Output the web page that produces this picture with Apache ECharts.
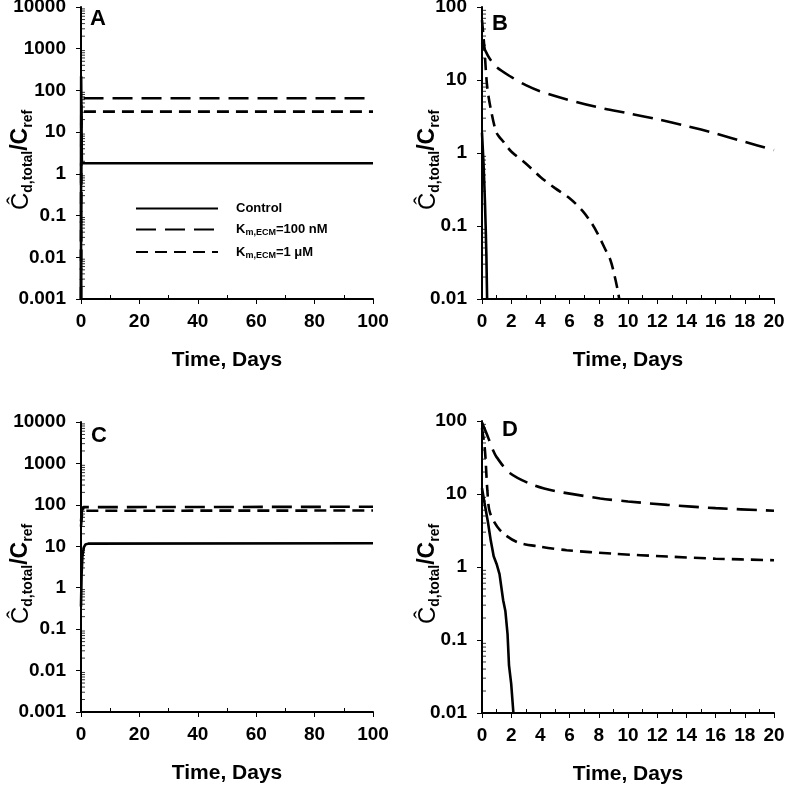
<!DOCTYPE html>
<html><head><meta charset="utf-8">
<script src="https://cdn.jsdelivr.net/npm/echarts@6/dist/echarts.min.js"></script>
<style>html,body{margin:0;padding:0;background:#fff}#c{width:785px;height:787px}</style>
</head><body><div id="c"></div>
<script>
// ---------- data ----------
const legendNames = ['Control', 'Km100', 'Km1'];
const legendLabels = ['Control', 'K{s|m,ECM}=100 nM', 'K{s|m,ECM}=1 μM'];
const panelLetters = ['A', 'B', 'C', 'D'];

// Panel A (0-100 days)
const aControl = [[0, 0.001], [0.05, 220], [0.3, 1.8], [100, 1.8]];
const aKm100  = [[0, 0.001], [0.1, 65], [100, 65]];
const aKm1    = [[0, 0.001], [0.1, 31], [100, 31]];

// Panel B (0-20 days)
const bControl = [[0, 1.9], [0.05, 1.2], [0.1, 0.75], [0.15, 0.42], [0.2, 0.22], [0.25, 0.1], [0.3, 0.04], [0.35, 0.01]];
const bKm100 = [[0, 32], [0.2, 26], [0.5, 20], [1, 15], [2, 11], [3, 8.5], [4, 7], [6, 5.3], [8, 4.2], [10, 3.5], [12, 2.9], [14, 2.35], [16, 1.85], [18, 1.42], [20, 1.1]];
const bKm1 = [[0, 66], [0.15, 30], [0.35, 8.3], [0.6, 4], [1, 1.9], [1.5, 1.4], [2, 1.05], [3, 0.72], [4, 0.47], [5, 0.33], [6, 0.24], [6.9, 0.16], [7.5, 0.11], [7.9, 0.08], [8.4, 0.05], [8.8, 0.034], [9.1, 0.02], [9.3, 0.013], [9.4, 0.01]];

// Panel C (0-100 days)
const cControl = [[0, 0.35], [0.2, 2], [0.5, 6], [1, 9.5], [1.5, 11], [2.5, 11.6], [100, 11.8]];
const cKm100 = [[0, 40], [0.3, 70], [0.8, 88], [100, 90]];
const cKm1   = [[0, 30], [0.3, 55], [0.8, 72], [100, 73]];

// Panel D (0-20 days)
const dControl = [[0, 12], [0.2, 7], [0.4, 4.2], [0.6, 2.3], [0.8, 1.4], [1.0, 1.1], [1.2, 0.8], [1.45, 0.35], [1.6, 0.25], [1.75, 0.12], [1.85, 0.045], [2.0, 0.025], [2.15, 0.01]];
const dKm100 = [[0, 95], [0.4, 61], [0.75, 40], [1, 32], [1.9, 19.4], [3.5, 13.3], [5, 11], [8.1, 8.7], [10, 7.9], [12.7, 7.1], [16, 6.4], [20, 5.9]];
const dKm1   = [[0, 80], [0.2, 40], [0.37, 11], [0.55, 5.5], [1.23, 3.2], [2.4, 2.2], [4, 1.9], [5.8, 1.7], [9, 1.52], [12.7, 1.39], [16, 1.3], [20, 1.24]];

// axis settings
const xMaxLong = 100, xIntLong = 20;
const xMaxShort = 20, xIntShort = 2;
const yMinA = 0.001, yMaxA = 10000;
const yMinB = 0.01, yMaxB = 100;
const decadesLong = [0.001, 0.01, 0.1, 1, 10, 100, 1000];
const decadesShort = [0.01, 0.1, 1, 10];
const minorMultipliers = [2, 3, 4, 5, 6, 7, 8, 9];

// ---------- chart ----------
const FONT = 'Liberation Sans, Arial, Helvetica, sans-serif';
const grids = [
  {left: 81, top: 7, width: 292, height: 292},
  {left: 482, top: 7, width: 292, height: 292},
  {left: 81, top: 422, width: 292, height: 290},
  {left: 482, top: 421, width: 292, height: 292}
].map(g => Object.assign({outerBoundsMode: 'none', containLabel: false}, g));
const xCfg = [[xMaxLong, xIntLong], [xMaxShort, xIntShort], [xMaxLong, xIntLong], [xMaxShort, xIntShort]];
const yCfg = [[yMinA, yMaxA], [yMinB, yMaxB], [yMinA, yMaxA], [yMinB, yMaxB]];
const yDecades = [decadesLong, decadesShort, decadesLong, decadesShort];
const yNameGap = [46, 40, 46, 40];
const panelData = [[aControl, aKm100, aKm1], [bControl, bKm100, bKm1], [cControl, cKm100, cKm1], [dControl, dKm100, dKm1]];

const axisLine = {show: true, onZero: false, lineStyle: {color: '#000', width: 2}};
const labelStyle = {color: '#000', fontFamily: FONT, fontWeight: 'bold', fontSize: 19};

const xAxes = xCfg.map((c, i) => ({
  type: 'value', gridIndex: i, min: 0, max: c[0], interval: c[1],
  axisLine: axisLine,
  axisTick: {show: true, length: 5, lineStyle: {color: '#000', width: 1}},
  minorTick: {show: true, splitNumber: 2, length: -4, lineStyle: {color: '#000', width: 1}},
  splitLine: {show: false}, minorSplitLine: {show: false},
  axisLabel: Object.assign({margin: 13}, labelStyle),
  name: 'Time, Days', nameLocation: 'middle', nameGap: 51, nameMoveOverlap: false,
  nameTextStyle: {color: '#000', fontFamily: FONT, fontWeight: 'bold', fontSize: 21}
}));

const yAxes = yCfg.map((c, i) => ({
  type: 'log', logBase: 10, gridIndex: i, min: c[0], max: c[1], interval: 1,
  axisLine: axisLine,
  axisTick: {show: true, length: 5, lineStyle: {color: '#000', width: 1}},
  minorTick: {show: false},
  splitLine: {show: false}, minorSplitLine: {show: false},
  axisLabel: Object.assign({margin: 15, formatter: v => String(+Number(v).toPrecision(4))}, labelStyle),
  name: '{c|Ĉ}{s|d,total}{b|/C}{s|ref}', nameLocation: 'middle', nameGap: yNameGap[i], nameRotate: 90,
  nameMoveOverlap: false,
  nameTextStyle: {
    color: '#000', fontFamily: FONT, padding: [0, 14, 0, 0],
    rich: {
      c: {fontSize: 24, fontWeight: 'normal', fontFamily: FONT, color: '#000', lineHeight: 28},
      b: {fontSize: 23, fontWeight: 'bold', fontFamily: FONT, color: '#000', lineHeight: 28},
      s: {fontSize: 14, fontWeight: 'bold', fontFamily: FONT, color: '#000', lineHeight: 12, verticalAlign: 'bottom'}
    }
  }
}));

const dashes = [null, [20, 9], [12, 7]];
const series = [];
panelData.forEach((arr, p) => {
  arr.forEach((d, k) => {
    series.push({
      type: 'line', name: legendNames[k], xAxisIndex: p, yAxisIndex: p,
      data: d, symbol: 'none', showSymbol: false, clip: true,
      smooth: (k > 0 && (p === 1 || p === 3)) ? 0.3 : false,
      lineStyle: {color: '#000', width: 2.6, type: k === 0 ? 'solid' : dashes[k]},
      itemStyle: {color: '#000'},
      emphasis: {disabled: true}, animation: false
    });
  });
  // minor log ticks on the inside of the y axis
  const tickVals = [];
  yDecades[p].forEach(dec => minorMultipliers.forEach(m => tickVals.push([0, +(dec * m).toPrecision(3)])));
  series.push({
    type: 'custom', name: 'minorTicks' + p, xAxisIndex: p, yAxisIndex: p, silent: true,
    data: tickVals, clip: false, z: 5,
    renderItem: (params, api) => {
      const pt = api.coord([api.value(0), api.value(1)]);
      return {type: 'line', shape: {x1: pt[0] + 1, y1: pt[1], x2: pt[0] + 4, y2: pt[1]},
              style: {stroke: '#000', lineWidth: 0.8}};
    }
  });
});

const letterPos = [[90, 8], [492, 13], [91, 425], [502, 419]];
const titles = panelLetters.map((t, i) => ({
  text: t, left: letterPos[i][0], top: letterPos[i][1], padding: 0,
  textStyle: {color: '#000', fontFamily: FONT, fontWeight: 'bold', fontSize: 22}
}));

const chart = echarts.init(document.getElementById('c'), null, {renderer: 'canvas'});
chart.setOption({
  animation: false,
  backgroundColor: '#fff',
  title: titles,
  grid: grids,
  xAxis: xAxes,
  yAxis: yAxes,
  legend: {
    data: legendNames, orient: 'vertical', left: 135, top: 202, padding: 0,
    itemWidth: 82, itemHeight: 14, itemGap: 8, selectedMode: false,
    itemStyle: {opacity: 0, borderWidth: 0},
    formatter: n => '{g|}' + legendLabels[legendNames.indexOf(n)].replace(/^([^{]*)/, '{n|$1}').replace(/\}([^{]+)$/, '}{n|$1}'),
    textStyle: {
      color: '#000', fontFamily: FONT, fontWeight: 'bold', fontSize: 13,
      rich: {
        g: {width: 13},
        n: {fontSize: 13, fontWeight: 'bold', fontFamily: FONT, color: '#000', lineHeight: 16},
        s: {fontSize: 9, fontWeight: 'bold', fontFamily: FONT, color: '#000', lineHeight: 8, verticalAlign: 'bottom'}
      }
    }
  },
  series: series
});
</script>
</body></html>
